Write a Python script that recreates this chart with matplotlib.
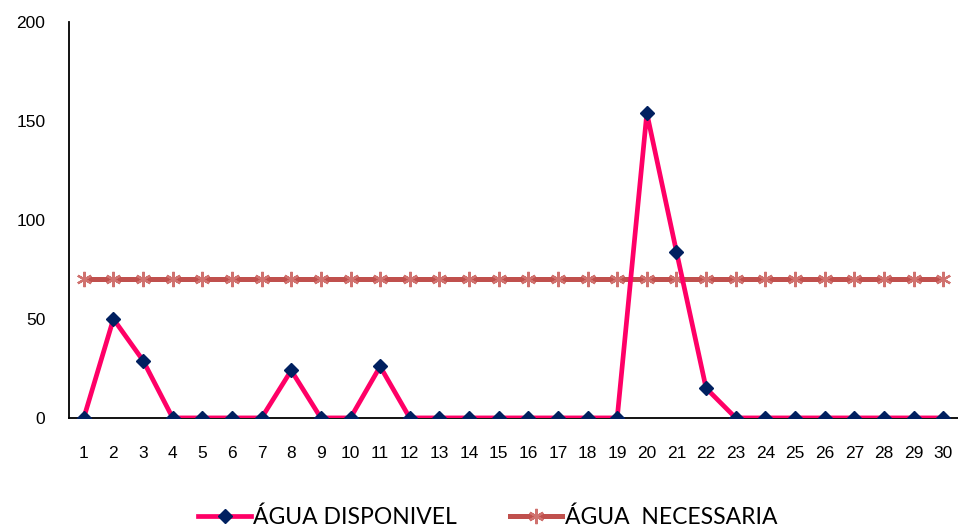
import matplotlib.pyplot as plt

dias = list(range(1, 31))
agua_disponivel = [0, 50, 29, 0, 0, 0, 0, 24, 0, 0, 26, 0, 0, 0, 0, 0, 0, 0, 0,
                   154, 84, 15, 0, 0, 0, 0, 0, 0, 0, 0]
agua_necessaria = [70] * 30

plt.rcParams['font.family'] = ['Liberation Sans', 'DejaVu Sans']

fig = plt.figure(figsize=(9.58, 5.27), dpi=100)
ax = fig.add_axes([0.072, 0.207, 0.928, 0.751])

ax.plot(dias, agua_disponivel, color='#FF0066', linewidth=3.4, marker='D',
        markersize=7, markerfacecolor='#002060', markeredgecolor='#002060',
        label='ÁGUA DISPONIVEL', zorder=3)
ax.plot(dias, agua_necessaria, color='#C0504D', linewidth=3.6, marker=(6, 2, 0),
        markersize=11, markeredgecolor='#D0726F', markeredgewidth=1.6,
        label='ÁGUA  NECESSARIA', zorder=2)

ax.set_xlim(0.5, 30.5)
ax.set_ylim(0, 200)
ax.set_xticks(dias)
ax.set_yticks([0, 50, 100, 150, 200])
ax.tick_params(axis='x', length=0, pad=20, labelsize=12.5)
ax.tick_params(axis='y', length=0, pad=17, labelsize=12.5)
ax.spines['top'].set_visible(False)
ax.spines['right'].set_visible(False)
ax.spines['left'].set_linewidth(1.3)
ax.spines['bottom'].set_linewidth(1.3)

ax.legend(loc='lower center', bbox_to_anchor=(0.471, -0.33), ncol=2, frameon=False,
          prop={'family': 'Lato', 'size': 16.5}, handlelength=2.3, handletextpad=0.1,
          columnspacing=2.3)

fig.savefig('out.png', dpi=100)
